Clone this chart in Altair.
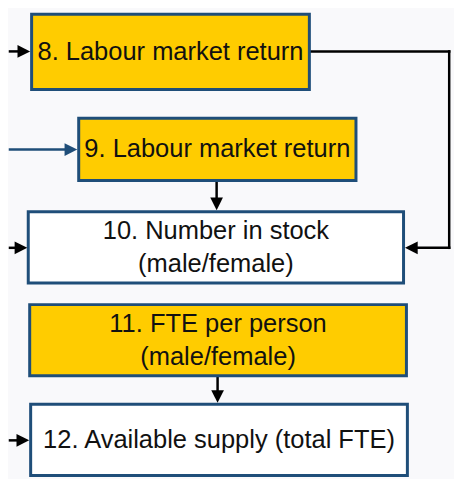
import altair as alt
import pandas as pd

# ---- box content ----
box_labels = [
    ["8. Labour market return"],
    ["9. Labour market return"],
    ["10. Number in stock", "(male/female)"],
    ["11. FTE per person", "(male/female)"],
    ["12. Available supply (total FTE)"],
]
box_fill = ["#FFCC00", "#FFCC00", "#FFFFFF", "#FFCC00", "#FFFFFF"]

# ---- layout (reference pixel frame 462 x 486) ----
box_x1 = [22.5, 71.5, 19.0, 20.5, 21.5]
box_x2 = [311.5, 360.0, 409.5, 412.5, 413.5]
box_y1 = [5.5, 113.5, 210.5, 307.0, 410.5]
box_y2 = [83.5, 178.0, 284.5, 381.0, 484.5]

# connector segments: (x, y, x2, y2, colour)
seg_x1 = [0, 0, 215, 313, 457, 457, 0, 216, 0]
seg_y1 = [44, 146, 180, 44, 44, 248, 248, 383, 448]
seg_x2 = [16, 62, 215, 457, 457, 418, 12, 216, 14]
seg_y2 = [44, 146, 203, 44, 248, 248, 248, 403, 448]
seg_col = ["#000000", "#1F4E79", "#000000", "#000000", "#000000", "#000000",
           "#000000", "#000000", "#000000"]

# arrow heads: tip position, direction, colour
head_x = [21, 70, 215, 411, 18, 216, 20]
head_y = [44, 146, 209, 248, 248, 409, 448]
head_dir = ["right", "right", "down", "left", "right", "down", "right"]
head_col = ["#000000", "#1F4E79", "#000000", "#000000", "#000000", "#000000", "#000000"]

W, H = 462, 486
PW, PH = 446, 470
k = PW / W
LH = 34

paths = {
    "right": "M0,0L-1,-0.5L-1,0.5Z",
    "left": "M0,0L1,-0.5L1,0.5Z",
    "down": "M0,0L-0.5,-1L0.5,-1Z",
}

boxes = pd.DataFrame({
    "fill": box_fill,
    "x1": box_x1, "x2": box_x2, "y1": box_y1, "y2": box_y2,
})

rows = []
for lines_, x1, x2, y1, y2 in zip(box_labels, box_x1, box_x2, box_y1, box_y2):
    cx, cy = (x1 + x2) / 2, (y1 + y2) / 2
    n = len(lines_)
    for i, t in enumerate(lines_):
        rows.append({"text": t, "cx": cx, "cy": cy + (i - (n - 1) / 2) * LH})
text_df = pd.DataFrame(rows)

segs = pd.DataFrame({"x": seg_x1, "y": seg_y1, "x2": seg_x2, "y2": seg_y2, "col": seg_col})
heads = pd.DataFrame({"x": head_x, "y": head_y, "col": head_col,
                      "shape": [paths[d] for d in head_dir]})

xs = alt.Scale(domain=[0, W], nice=False, zero=False)
ys = alt.Scale(domain=[0, H], nice=False, zero=False, reverse=True)

rects = alt.Chart(boxes).mark_rect(stroke="#1F4E79", strokeWidth=3).encode(
    x=alt.X("x1:Q", scale=xs, axis=None),
    x2="x2:Q",
    y=alt.Y("y1:Q", scale=ys, axis=None),
    y2="y2:Q",
    fill=alt.Fill("fill:N", scale=None),
)

texts = alt.Chart(text_df).mark_text(
    font="Liberation Sans", fontSize=26.5 * k, color="#111111",
    align="center", baseline="middle",
).encode(
    x=alt.X("cx:Q", scale=xs, axis=None),
    y=alt.Y("cy:Q", scale=ys, axis=None),
    text="text:N",
)

lines = alt.Chart(segs).mark_rule(strokeWidth=2.5, strokeCap="square").encode(
    x=alt.X("x:Q", scale=xs, axis=None),
    x2="x2:Q",
    y=alt.Y("y:Q", scale=ys, axis=None),
    y2="y2:Q",
    color=alt.Color("col:N", scale=None),
)

arrowheads = alt.Chart(heads).mark_point(filled=True, opacity=1, size=650, strokeWidth=0).encode(
    x=alt.X("x:Q", scale=xs, axis=None),
    y=alt.Y("y:Q", scale=ys, axis=None),
    shape=alt.Shape("shape:N", scale=None),
    color=alt.Color("col:N", scale=None),
)

chart = alt.layer(lines, rects, texts, arrowheads).properties(
    width=PW, height=PH, padding=0, background="#F9F9FB",
).configure_view(stroke=None)

chart.save("out.html", embed_options={"renderer": "svg", "actions": False})
